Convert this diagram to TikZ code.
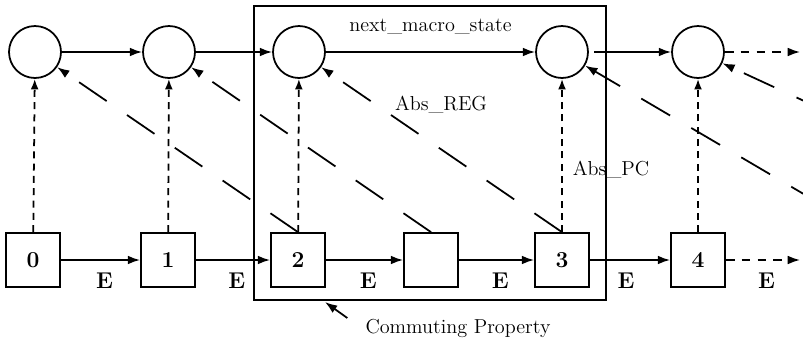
\documentclass[tikz,border=0pt]{standalone}
\usetikzlibrary{arrows.meta,positioning,calc}

\tikzset{
  macro/.style={circle,draw,line width=1pt,minimum size=1.04cm,inner sep=0pt},
  micro/.style={rectangle,draw,line width=1pt,minimum size=1.08cm,inner sep=0pt,font=\fontsize{13}{15}\selectfont\bfseries},
  step arrow/.style={line width=1pt,-{Latex[length=7pt,width=5pt]}},
  abs arrow/.style={line width=1pt,dash pattern=on 4pt off 3pt,-{Latex[length=6pt,width=4.5pt]}},
  reg arrow/.style={line width=1pt,dash pattern=on 19pt off 14pt,-{Latex[length=7pt,width=5pt]}},
  elabel/.style={font=\fontsize{13}{15}\selectfont\bfseries,inner sep=0pt,below=7pt}
}

\begin{document}
\begin{tikzpicture}[x=0.02cm,y=-0.02cm,font=\fontsize{11.5}{13}\selectfont]
\useasboundingbox (0,0) rectangle (803,342);
\clip (0,0) rectangle (803,342);
% the commuting box
\node[draw,line width=1pt,minimum width=7.04cm,minimum height=5.88cm,inner sep=0pt] (box) at (430,153) {};
% macro states
\node[macro] (c1) at (35,52) {};
\node[macro] (c2) at (169,52) {};
\node[macro] (c3) at (299,52) {};
\node[macro] (c4) at (562,52) {};
\node[macro] (c5) at (698,52) {};
\coordinate (c6) at (800,52);
% micro states
\node[micro] (s0) at (33,260) {0};
\node[micro] (s1) at (168,260) {1};
\node[micro] (s2) at (298,260) {2};
\node[micro] (sb) at (431,260) {};
\node[micro] (s3) at (562,260) {3};
\node[micro] (s4) at (698,260) {4};
\coordinate (s5) at (800,260);
\coordinate (f4) at (870,233);
\coordinate (f5) at (1090,233);
% macro steps
\draw[step arrow] (c1) -- (c2);
\draw[step arrow] (c2) -- (c3);
\draw[step arrow] (c3) -- node[above=6pt] {next\_macro\_state} (c4);
\draw[step arrow,shorten <=3pt] (c4) -- (c5);
\draw[step arrow,dash pattern=on 5pt off 4pt] (c5) -- (c6);
% micro steps
\draw[step arrow] (s0) -- node[elabel,pos=0.55] {E} (s1);
\draw[step arrow] (s1) -- node[elabel,pos=0.55] {E} (s2);
\draw[step arrow] (s2) -- node[elabel,pos=0.55] {E} (sb);
\draw[step arrow] (sb) -- node[elabel,pos=0.55] {E} (s3);
\draw[step arrow] (s3) -- node[elabel,pos=0.45] {E} (s4);
\draw[step arrow,dash pattern=on 5pt off 4pt] (s4) -- node[elabel,pos=0.55] {E} (s5);
% abstraction of the pc
\foreach \s/\c in {s0/c1,s1/c2,s2/c3,s3/c4,s4/c5}
  \draw[abs arrow] (\s) -- (\c);
% abstraction of the registers
\foreach \s/\c in {s2/c1,sb/c2,s3/c3,f4/c4,f5/c5}
  \draw[reg arrow] (\s.north) -- (\c);
\node (absreg) at (441,105) {Abs\_REG};
\node (abspc) at (611,170) {Abs\_PC};
% commuting property
\node (comm) at (458,328) {Commuting Property};
\coordinate (commtip) at (325,302);
\draw[step arrow] ($(comm.west)+(-12,-10)$) -- (commtip);
\end{tikzpicture}
\end{document}
